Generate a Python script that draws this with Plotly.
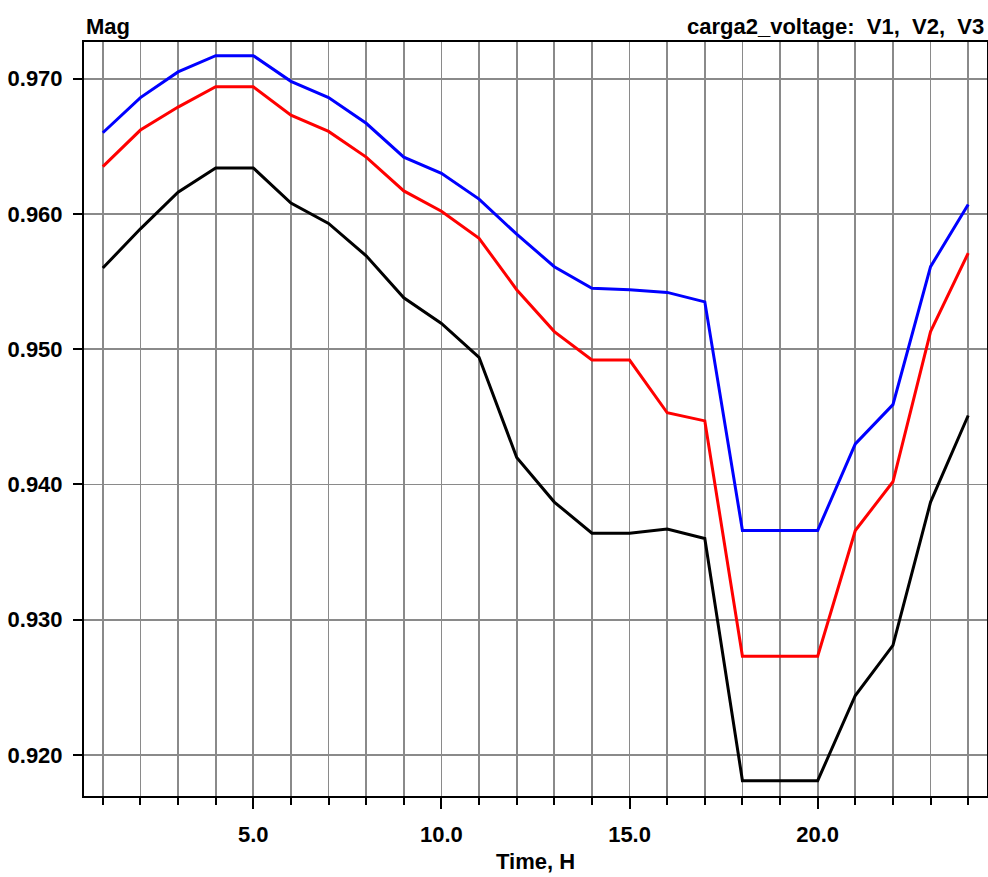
import plotly.graph_objects as go

hours = list(range(1, 25))
v1_blue = [0.9660, 0.9686, 0.9705, 0.9717, 0.9717, 0.9698, 0.9686, 0.9667, 0.9642, 0.9630,
           0.9611, 0.9585, 0.9561, 0.9545, 0.9544, 0.9542, 0.9535, 0.9366, 0.9366, 0.9366,
           0.9430, 0.9459, 0.9561, 0.9607]
v2_red = [0.9635, 0.9662, 0.9679, 0.9694, 0.9694, 0.9673, 0.9661, 0.9642, 0.9617, 0.9602,
          0.9582, 0.9544, 0.9513, 0.9492, 0.9492, 0.9453, 0.9447, 0.9273, 0.9273, 0.9273,
          0.9366, 0.9402, 0.9513, 0.9571]
v3_black = [0.9560, 0.9589, 0.9616, 0.9634, 0.9634, 0.9608, 0.9593, 0.9569, 0.9538, 0.9519,
            0.9494, 0.9420, 0.9387, 0.9364, 0.9364, 0.9367, 0.9360, 0.9181, 0.9181, 0.9181,
            0.9244, 0.9281, 0.9387, 0.9451]

title_text = "carga2_voltage:  V1,  V2,  V3"
y_label = "Mag"
x_label = "Time, H"

FONT = "Liberation Sans, Arial, sans-serif"
FS = 22

fig = go.Figure()
for name, ys, col in [("V3", v3_black, "#000000"), ("V2", v2_red, "#ff0000"), ("V1", v1_blue, "#0000ff")]:
    fig.add_trace(go.Scatter(x=hours, y=ys, mode="lines", name=name,
                             line=dict(color=col, width=3), showlegend=False))

W, H = 988, 877
L, R, T, B = 84, 1, 42, 81
pw, ph = W - L - R, H - T - B

fig.update_layout(
    width=W, height=H,
    margin=dict(l=L, r=R, t=T, b=B, pad=0, autoexpand=False),
    paper_bgcolor="white", plot_bgcolor="white",
    font=dict(family=FONT, size=FS, color="#000000", weight="bold"),
    showlegend=False,
)

fig.update_xaxes(
    range=[0.5, 24.5], tick0=0, dtick=5, tickformat=".1f",
    ticks="outside", ticklen=11, tickwidth=2, tickcolor="#000000",
    ticklabelstandoff=7, automargin=False,
    showgrid=True, gridcolor="#8a8a8a", gridwidth=1.7,
    showline=True, linecolor="#000000", linewidth=2, mirror=True,
    zeroline=False,
    tickfont=dict(family=FONT, size=FS, color="#000000", weight="bold"),
    minor=dict(tick0=0, dtick=1, ticks="outside", ticklen=7, tickwidth=2, tickcolor="#000000",
               showgrid=True, gridcolor="#8a8a8a", gridwidth=1.7),
)
fig.update_yaxes(
    range=[0.91697, 0.97271], tick0=0.92, dtick=0.01, tickformat=".3f",
    ticks="outside", ticklen=9, tickwidth=2, tickcolor="#000000",
    ticklabelstandoff=6, automargin=False,
    showgrid=True, gridcolor="#8a8a8a", gridwidth=1.7,
    showline=True, linecolor="#000000", linewidth=2, mirror=True,
    zeroline=False,
    tickfont=dict(family=FONT, size=FS, color="#000000", weight="bold"),
)

fig.add_annotation(text=y_label, xref="paper", yref="paper", x=0, y=1 + 16 / ph,
                   xanchor="left", yanchor="middle", showarrow=False,
                   font=dict(family=FONT, size=FS, color="#000000", weight="bold"))
fig.add_annotation(text=title_text, xref="paper", yref="paper", x=(986 - L) / pw, y=1 + 15 / ph,
                   xanchor="right", yanchor="middle", showarrow=False,
                   font=dict(family=FONT, size=FS, color="#000000", weight="bold"))
fig.add_annotation(text=x_label, xref="paper", yref="paper", x=0.5, y=-(861 - (H - B)) / ph,
                   xanchor="center", yanchor="middle", showarrow=False,
                   font=dict(family=FONT, size=FS, color="#000000", weight="bold"))

fig.write_html("out.html", config={"displayModeBar": False, "staticPlot": True})

# remove the default page margin so the figure sits at the window's top-left corner
with open("out.html", "r", encoding="utf-8") as f:
    html = f.read()
html = html.replace("<head>", "<head><style>html,body{margin:0;padding:0;overflow:hidden;}</style>", 1)
with open("out.html", "w", encoding="utf-8") as f:
    f.write(html)
